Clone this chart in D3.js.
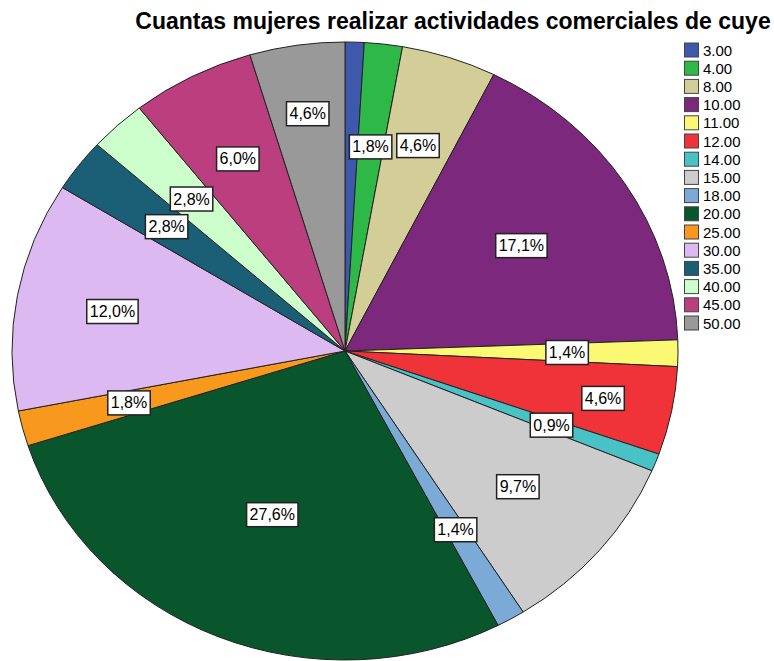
<html>
<head>
  <script src="https://d3js.org/d3.v7.min.js"></script>
  <style>
    body { margin: 0; background: #fff; }
    text { font-family: "Liberation Sans", Arial, sans-serif; }
    .title { font-size: 23px; font-weight: bold; }
    .legend text { font-size: 15px; }
    .slice-label text { font-size: 16px; }
  </style>
</head>
<body>
  <svg id="pie" width="774" height="661"></svg>
  <script>
    // data
    const categories = ["3.00", "4.00", "8.00", "10.00", "11.00", "12.00", "14.00", "15.00",
      "18.00", "20.00", "25.00", "30.00", "35.00", "40.00", "45.00", "50.00"];
    const counts = [2, 4, 10, 37, 3, 10, 2, 21, 3, 60, 4, 26, 6, 6, 13, 10];
    const colors = ["#3E58AC", "#2EB848", "#D3CE97", "#7C287D", "#FBF873", "#EF3338", "#48C2C5", "#CCCCCC",
      "#7AAAD5", "#0A562C", "#F8981D", "#DDB9F1", "#1A5F76", "#CCFFCC", "#BB3F7F", "#999999"];
    // label distance from centre as a fraction of radius (null = no label)
    const labelRadius = [null, 0.665, 0.70, 0.63, 0.667, 0.79, 0.665, 0.68, 0.667, 0.573, 0.67, 0.71, 0.67, 0.674, 0.70, 0.776];

    const svg = d3.select("svg#pie");
    const cx = 345, cy = 351;
    const rx = 333, ry = 309;

    const total = d3.sum(counts);
    const data = categories.map((c, i) => ({ cat: c, count: counts[i], color: colors[i], lr: labelRadius[i] }));

    const pie = d3.pie().sort(null).value(d => d.count);
    const arcs = pie(data);
    const arc = d3.arc().innerRadius(0).outerRadius(rx);

    // title
    svg.append("text")
      .attr("class", "title")
      .attr("x", 453)
      .attr("y", 29)
      .attr("text-anchor", "middle")
      .text("Cuantas mujeres realizar actividades comerciales de cuye");

    // slices, drawn on a circle and squashed vertically
    let pieArea = svg.append("g")
      .attr("transform", "translate(" + cx + "," + cy + ") scale(1," + (ry / rx) + ")");

    pieArea.selectAll("path")
      .data(arcs)
      .join("path")
      .attr("d", arc)
      .attr("fill", d => d.data.color)
      .attr("stroke", "#222")
      .attr("stroke-width", 1)
      .attr("vector-effect", "non-scaling-stroke");

    // labels
    let labels = svg.append("g").attr("class", "slice-label");
    arcs.forEach(d => {
      if (d.data.lr == null) return;
      const r = d.data.lr * rx;
      const [x, y] = d3.arc().innerRadius(r).outerRadius(r).centroid(d);
      const px = cx + x, py = cy + y * ry / rx;
      const pct = (d.data.count / total * 100).toFixed(1).replace(".", ",") + "%";
      let g = labels.append("g");
      let rect = g.append("rect");
      let t = g.append("text")
        .attr("x", px)
        .attr("y", py)
        .attr("text-anchor", "middle")
        .attr("dominant-baseline", "central")
        .text(pct);
      const bb = t.node().getBBox();
      rect.attr("x", bb.x - 3)
        .attr("y", py - 12)
        .attr("width", bb.width + 6)
        .attr("height", 24)
        .attr("fill", "#fff")
        .attr("stroke", "#222")
        .attr("stroke-width", 1.5);
    });

    // legend
    let legend = svg.append("g").attr("class", "legend");
    data.forEach((d, i) => {
      const y = 50 + i * 18.2;
      legend.append("rect")
        .attr("x", 684.5)
        .attr("y", y - 7)
        .attr("width", 14)
        .attr("height", 14)
        .attr("fill", d.color)
        .attr("stroke", "#444")
        .attr("stroke-width", 1);
      legend.append("text")
        .attr("x", 703)
        .attr("y", y)
        .attr("dominant-baseline", "central")
        .text(d.cat);
    });
  </script>
</body>
</html>
